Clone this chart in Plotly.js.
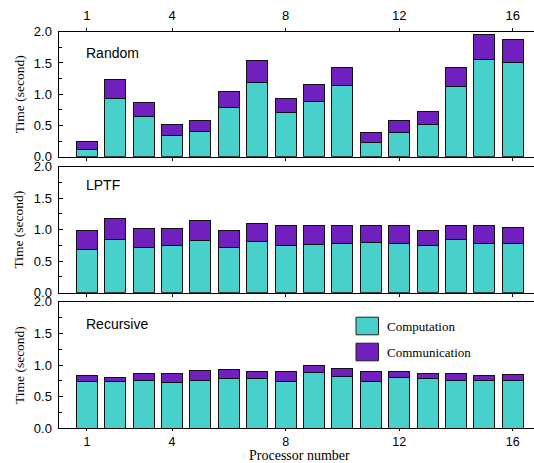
<!DOCTYPE html>
<html>
<head>
<meta charset="utf-8">
<script src="https://cdn.plot.ly/plotly-3.0.1.min.js"></script>
<style>html,body{margin:0;padding:0;background:#fff;}#chart{width:534px;height:463px;}</style>
</head>
<body>
<div id="chart"></div>
<script>
const processors = [1,2,3,4,5,6,7,8,9,10,11,12,13,14,15,16];
const xTickVals = [1,4,8,12,16];
const yTickVals = [0,0.5,1,1.5,2];
const panelNames = ["Random","LPTF","Recursive"];
const seriesNames = ["Computation","Communication"];

const randomComp = [0.12,0.93,0.64,0.34,0.40,0.79,1.18,0.71,0.88,1.14,0.22,0.38,0.52,1.12,1.56,1.50];
const randomComm = [0.13,0.31,0.22,0.18,0.18,0.26,0.36,0.22,0.28,0.28,0.17,0.20,0.21,0.30,0.40,0.37];
const lptfComp = [0.69,0.85,0.72,0.75,0.83,0.72,0.81,0.75,0.77,0.78,0.80,0.78,0.75,0.84,0.78,0.78];
const lptfComm = [0.29,0.32,0.30,0.27,0.32,0.26,0.29,0.32,0.30,0.29,0.27,0.28,0.24,0.23,0.28,0.26];
const recComp = [0.74,0.74,0.76,0.73,0.75,0.78,0.78,0.74,0.88,0.82,0.74,0.81,0.78,0.76,0.76,0.76];
const recComm = [0.09,0.07,0.10,0.13,0.16,0.15,0.11,0.15,0.11,0.13,0.15,0.09,0.08,0.10,0.08,0.09];

const compColor = "#48D0CB";
const commColor = "#7020BE";
const SANS = "Liberation Sans, Arial, sans-serif";
const SERIF = "Liberation Serif, Times New Roman, serif";

const panels = [
  {comp: randomComp, comm: randomComm, xa: "x", ya: "y"},
  {comp: lptfComp, comm: lptfComm, xa: "x2", ya: "y2"},
  {comp: recComp, comm: recComm, xa: "x3", ya: "y3"}
];

const traces = [];
panels.forEach(p => {
  traces.push({type:"bar", x: processors, y: p.comp, xaxis: p.xa, yaxis: p.ya, name: seriesNames[0],
    width: 0.74, marker:{color: compColor, line:{color:"#111", width:1}}, showlegend:false, hoverinfo:"skip"});
  traces.push({type:"bar", x: processors, y: p.comm, xaxis: p.xa, yaxis: p.ya, name: seriesNames[1],
    width: 0.74, marker:{color: commColor, line:{color:"#111", width:1}}, showlegend:false, hoverinfo:"skip"});
});

const W = 534, H = 463;
const xDom = [58.5/W, 1];
const doms = [[1-156.7/H, 1-31.7/H],[1-292.7/H, 1-166.5/H],[1-428.3/H, 1-301.7/H]];

function xAxis(anchor, opts){
  return Object.assign({
    domain: xDom, anchor: anchor, range: [0, 16.75], tickvals: xTickVals,
    showline: true, linecolor: "#000", linewidth: 1, showgrid: false, zeroline: false,
    ticks: "outside", ticklen: 3, tickcolor: "#000", tickwidth: 1,
    tickfont: {family: SANS, size: 13, color: "#000"}, automargin: false, fixedrange: true
  }, opts);
}
function yAxis(anchor, dom){
  return {
    domain: dom, anchor: anchor, range: [0, 2], tickvals: yTickVals, tickformat: ".1f",
    showline: true, linecolor: "#000", linewidth: 1, showgrid: false, zeroline: false,
    ticks: "inside", ticklen: 4, tickcolor: "#000", tickwidth: 1,
    minor: {dtick: 0.25, ticks: "inside", ticklen: 3, tickcolor: "#000", showgrid: false},
    tickfont: {family: SANS, size: 13, color: "#000"}, ticklabelstandoff: 3,
    automargin: false, fixedrange: true
  };
}

const annotations = [];
const labelY = [52.8, 185, 324];
panelNames.forEach((n,i) => {
  annotations.push({xref:"paper", yref:"paper", x: 84/W, y: 1-labelY[i]/H, xanchor:"left", yanchor:"middle",
    text: n, showarrow:false, font:{family: SANS, size: 14, color:"#000"}});
  const c = (doms[i][0]+doms[i][1])/2;
  annotations.push({xref:"paper", yref:"paper", x: 19/W, y: c, xanchor:"center", yanchor:"middle",
    text: "Time (second)", textangle: -90, showarrow:false, font:{family: SERIF, size: 13.5, color:"#000"}});
});
annotations.push({xref:"paper", yref:"paper", x: 299/W, y: 1-455.8/H, xanchor:"center", yanchor:"middle",
  text: "Processor number", showarrow:false, font:{family: SERIF, size: 14, color:"#000"}});

// legend
const legY = [326, 352];
const legCol = [compColor, commColor];
const shapes = [];
seriesNames.forEach((n,i) => {
  shapes.push({type:"rect", xref:"paper", yref:"paper", x0: 356/W, x1: 378.5/W,
    y0: 1-(legY[i]+8.8)/H, y1: 1-(legY[i]-8.8)/H, fillcolor: legCol[i], line:{color:"#222", width:1}});
  annotations.push({xref:"paper", yref:"paper", x: 385/W, y: 1-legY[i]/H, xanchor:"left", yanchor:"middle",
    text: n, showarrow:false, font:{family: SERIF, size: 13, color:"#000"}});
});

const layout = {
  width: W, height: H, margin: {l:0, r:0, t:0, b:0},
  paper_bgcolor: "#fff", plot_bgcolor: "#fff",
  barmode: "stack", showlegend: false,
  xaxis: xAxis("y", {side: "top", mirror: "ticks", ticklabelstandoff: 3}),
  xaxis2: xAxis("y2", {showticklabels: false, mirror: true}),
  xaxis3: xAxis("y3", {mirror: true, ticklabelstandoff: 0, ticklen: 2, tickfont: {family: SANS, size: 12.5, color: "#000"}}),
  yaxis: yAxis("x", doms[0]),
  yaxis2: yAxis("x2", doms[1]),
  yaxis3: yAxis("x3", doms[2]),
  annotations: annotations, shapes: shapes
};

Plotly.newPlot("chart", traces, layout, {displayModeBar: false, staticPlot: true});
</script>
</body>
</html>
